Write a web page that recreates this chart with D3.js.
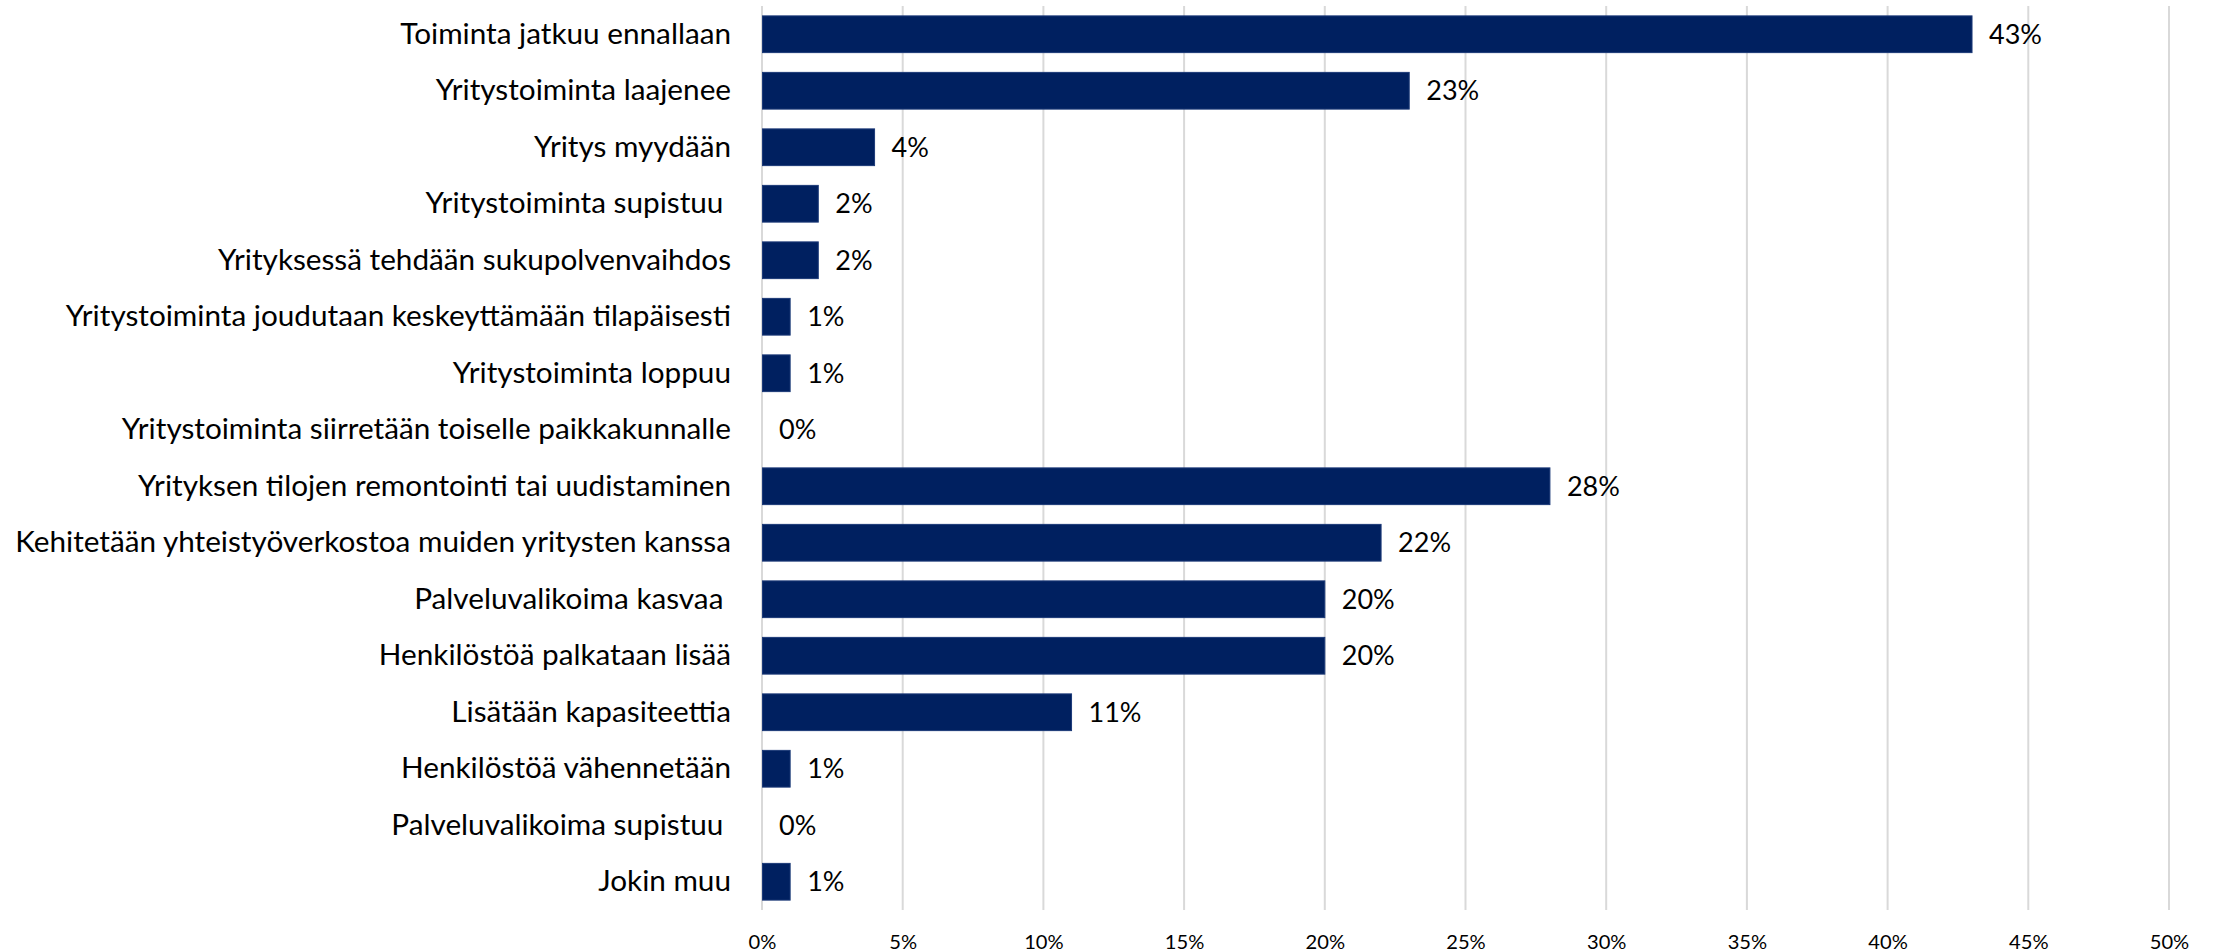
<!DOCTYPE html>
<html>
<head>
<meta charset="utf-8">
<script src="https://cdn.jsdelivr.net/npm/d3@7"></script>
<style>
  html, body { margin: 0; padding: 0; background: #fff; }
  svg text { white-space: pre; }
</style>
</head>
<body>
<svg id="chart" width="2216" height="952"></svg>
<script>
// Survey answers: expected development of the business
const categories = [
  "Toiminta jatkuu ennallaan",
  "Yritystoiminta laajenee",
  "Yritys myydään",
  "Yritystoiminta supistuu ",
  "Yrityksessä tehdään sukupolvenvaihdos",
  "Yritystoiminta joudutaan keskeyttämään tilapäisesti",
  "Yritystoiminta loppuu",
  "Yritystoiminta siirretään toiselle paikkakunnalle",
  "Yrityksen tilojen remontointi tai uudistaminen",
  "Kehitetään yhteistyöverkostoa muiden yritysten kanssa",
  "Palveluvalikoima kasvaa ",
  "Henkilöstöä palkataan lisää",
  "Lisätään kapasiteettia",
  "Henkilöstöä vähennetään",
  "Palveluvalikoima supistuu ",
  "Jokin muu"
];
const shares = [43, 23, 4, 2, 2, 1, 1, 0, 28, 22, 20, 20, 11, 1, 0, 1];
const tickValues = [0, 5, 10, 15, 20, 25, 30, 35, 40, 45, 50];

const data = categories.map((c, i) => ({ category: c, value: shares[i] }));

const svg = d3.select("#chart");
const FONT = "Lato, 'Open Sans', sans-serif";
const barColor = "#002060";

const plot = { left: 762, right: 2169, top: 6, bottom: 910 };

const x = d3.scaleLinear().domain([0, 50]).range([plot.left, plot.right]);
const y = d3.scaleBand().domain(categories).range([plot.top, plot.bottom]).paddingInner(0.35).paddingOuter(0.175);

// Font sizes fitted to the label widths
function fitSize(text, targetWidth) {
  const t = svg.append("text").attr("font-family", FONT).attr("font-size", 100).text(text);
  const w = t.node().getComputedTextLength();
  t.remove();
  return 100 * targetWidth / w;
}
const catSize = fitSize("Kehitetään yhteistyöverkostoa muiden yritysten kanssa", 716);
const valSize = fitSize("43%", 53);
const tickSize = fitSize("10%", 39.5);

// Vertical gridlines
svg.append("g")
  .selectAll("line")
  .data(tickValues)
  .join("line")
  .attr("x1", d => x(d)).attr("x2", d => x(d))
  .attr("y1", plot.top).attr("y2", plot.bottom)
  .attr("stroke", "#d9d9d9")
  .attr("stroke-width", 2);

// Bars
svg.append("g")
  .selectAll("rect")
  .data(data)
  .join("rect")
  .attr("x", x(0) + 0.5)
  .attr("y", d => y(d.category))
  .attr("width", d => Math.max(0, x(d.value) - x(0) - 0.5))
  .attr("height", y.bandwidth())
  .attr("fill", barColor)
  .attr("stroke", d => d.value > 0 ? "#1c3a78" : "none")
  .attr("stroke-width", 1);

// Category labels
const yAxis = d3.axisLeft(y).tickSize(0).tickPadding(31);
const gy = svg.append("g").attr("transform", `translate(${plot.left},0)`).call(yAxis);
gy.select(".domain").remove();
gy.selectAll("text")
  .attr("font-family", FONT)
  .attr("font-size", catSize)
  .attr("fill", "#000");

// Value labels
svg.append("g")
  .selectAll("text")
  .data(data)
  .join("text")
  .attr("x", d => x(d.value) + 17)
  .attr("y", d => y(d.category) + y.bandwidth() / 2)
  .attr("dy", "0.35em")
  .attr("font-family", FONT)
  .attr("font-size", valSize)
  .attr("fill", "#000")
  .text(d => d.value + "%");

// X axis tick labels
const xAxis = d3.axisBottom(x).tickValues(tickValues).tickSize(0).tickPadding(25).tickFormat(d => d + "%");
const gx = svg.append("g").attr("transform", `translate(0,${plot.bottom})`).call(xAxis);
gx.select(".domain").remove();
gx.selectAll("text")
  .attr("font-family", FONT)
  .attr("font-size", tickSize)
  .attr("fill", "#000");
</script>
</body>
</html>
